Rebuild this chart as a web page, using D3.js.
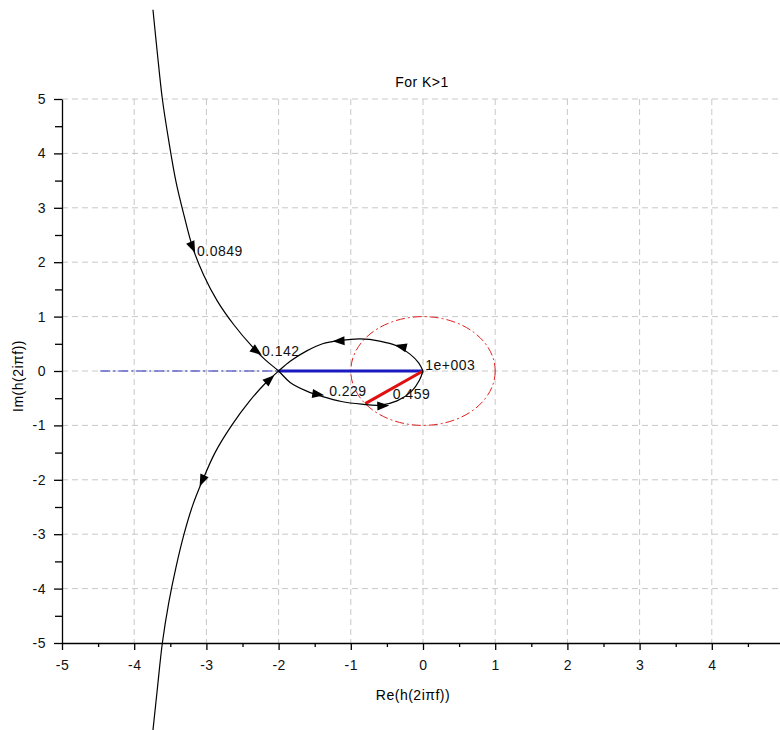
<!DOCTYPE html>
<html>
<head>
<meta charset="utf-8">
<script src="https://cdn.jsdelivr.net/npm/d3@7"></script>
<style>
  body { margin: 0; background: #fff; }
  svg { display: block; }
  text { font-family: "Liberation Sans", Arial, sans-serif; letter-spacing: 0.5px; }
</style>
</head>
<body>
<svg id="chart" width="780" height="730"></svg>
<script>
// ---- data ----
const xTicks = [-5, -4, -3, -2, -1, 0, 1, 2, 3, 4, 5];
const yTicks = [-5, -4, -3, -2, -1, 0, 1, 2, 3, 4, 5];
const minorTicks = [-4.5, -3.5, -2.5, -1.5, -0.5, 0.5, 1.5, 2.5, 3.5, 4.5];

// positive frequencies: upper branch down to -2, then lower arc to origin
const posRe = [-3.74, -3.68, -3.61, -3.52, -3.42, -3.31, -3.19, -3.04, -2.85, -2.62, -2.38, -2.18, -2.00,
               -1.84, -1.61, -1.39, -1.13, -0.85, -0.60, -0.36, -0.15, -0.05, 0.0];
const posIm = [6.64, 5.85, 5.00, 4.22, 3.47, 2.86, 2.27, 1.77, 1.29, 0.85, 0.47, 0.20, 0.0,
               -0.21, -0.37, -0.47, -0.56, -0.61, -0.63, -0.55, -0.36, -0.17, 0.0];
// negative frequencies: upper arc from origin to -2, then lower branch
const negRe = [0.0, -0.06, -0.18, -0.36, -0.60, -0.87, -1.15, -1.39, -1.61, -1.84, -2.00,
               -2.18, -2.40, -2.65, -2.88, -3.05, -3.19, -3.31, -3.42, -3.52, -3.61, -3.68, -3.74];
const negIm = [0.0, 0.15, 0.31, 0.46, 0.55, 0.59, 0.56, 0.50, 0.37, 0.18, 0.0,
               -0.22, -0.55, -1.00, -1.50, -2.00, -2.47, -3.00, -3.60, -4.25, -5.00, -5.85, -6.60];

// frequency arrows: point and heading (data units)
const arrowRe  = [-3.19, -2.30, -1.17, -0.31, -1.45, -0.55, -2.12, -3.06];
const arrowIm  = [ 2.27,  0.36,  0.55,  0.45, -0.43, -0.64, -0.15, -2.02];
const arrowDRe = [ 0.20,  0.25, -1.00, -0.60,  1.00,  1.00,  0.50, -0.20];
const arrowDIm = [-0.60, -0.25, -0.05,  0.20, -0.20,  0.05,  0.60, -0.60];

const freqLabels = ["0.0849", "0.142", "0.229", "0.459", "1e+003"];
const freqRe = [-3.13, -2.23, -1.30, -0.42, 0.03];
const freqIm = [ 2.12,  0.28, -0.46, -0.52, 0.02];

// gain margin (blue) and phase margin (red)
const gmDashRe = [-4.47, -2.0];
const gmRe = [-2.0, 0.0];
const pmRe = [0.0, -0.80];
const pmIm = [0.0, -0.60];

// ---- drawing ----
const svg = d3.select("#chart");
const x = d3.scaleLinear().domain([-5, 5]).range([62, 784]);
const y = d3.scaleLinear().domain([-5, 5]).range([643, 99]);

// grid
const grid = svg.append("g").attr("stroke", "#c8c8c8").attr("stroke-dasharray", "6,4").attr("stroke-width", 1);
grid.selectAll("line.gx").data(xTicks.slice(1)).enter().append("line")
    .attr("x1", d => x(d)).attr("x2", d => x(d)).attr("y1", y(5)).attr("y2", y(-5));
grid.selectAll("line.gy").data(yTicks.slice(1)).enter().append("line")
    .attr("x1", x(-5)).attr("x2", x(5)).attr("y1", d => y(d)).attr("y2", d => y(d));

// axes
const fmt = d => String(d);
svg.append("g").attr("transform", `translate(0,${y(-5)})`)
    .call(d3.axisBottom(x).tickValues(xTicks).tickSize(7).tickSizeOuter(0).tickPadding(10).tickFormat(fmt));
svg.append("g").attr("transform", `translate(0,${y(-5)})`)
    .call(d3.axisBottom(x).tickValues(minorTicks).tickSize(4).tickFormat(""))
    .call(g => g.select(".domain").remove());
svg.append("g").attr("transform", `translate(${x(-5)},0)`)
    .call(d3.axisLeft(y).tickValues(yTicks).tickSize(8).tickSizeOuter(0).tickPadding(8).tickFormat(fmt));
svg.append("g").attr("transform", `translate(${x(-5)},0)`)
    .call(d3.axisLeft(y).tickValues(minorTicks).tickSize(7).tickFormat(""))
    .call(g => g.select(".domain").remove());
svg.selectAll(".tick text").attr("font-size", 14).attr("fill", "#111")
    .attr("font-family", "'Liberation Sans', Arial, sans-serif");
svg.selectAll(".domain, .tick line").attr("stroke", "#000").attr("stroke-width", 1.3);

// titles
svg.append("text").attr("x", 422).attr("y", 87).attr("text-anchor", "middle")
    .attr("font-size", 14).text("For K>1");
svg.append("text").attr("x", 413).attr("y", 700).attr("text-anchor", "middle")
    .attr("font-size", 14).text("Re(h(2iπf))");
svg.append("text").attr("transform", "translate(23,376) rotate(-90)").attr("text-anchor", "middle")
    .attr("font-size", 14).text("Im(h(2iπf))");

// margins
svg.append("line").attr("x1", x(gmDashRe[0])).attr("x2", x(gmDashRe[1])).attr("y1", y(0)).attr("y2", y(0))
    .attr("stroke", "#2323b8").attr("stroke-width", 1.2).attr("stroke-dasharray", "10,3,2,3");
svg.append("ellipse").attr("cx", x(0)).attr("cy", y(0))
    .attr("rx", x(1) - x(0)).attr("ry", y(0) - y(1))
    .attr("fill", "none").attr("stroke", "#e02020").attr("stroke-width", 1)
    .attr("stroke-dasharray", "9,3,2,3");
svg.append("line").attr("x1", x(gmRe[0])).attr("x2", x(gmRe[1])).attr("y1", y(0)).attr("y2", y(0))
    .attr("stroke", "#1a1ac0").attr("stroke-width", 3);
svg.append("line").attr("x1", x(pmRe[0])).attr("x2", x(pmRe[1])).attr("y1", y(pmIm[0])).attr("y2", y(pmIm[1]))
    .attr("stroke", "#e01010").attr("stroke-width", 3);

// nyquist branches
const line = d3.line().x(d => x(d[0])).y(d => y(d[1])).curve(d3.curveCatmullRom.alpha(0.5));
[[posRe, posIm], [negRe, negIm]].forEach(([re, im]) => {
  svg.append("path").datum(re.map((r, i) => [r, im[i]]))
     .attr("d", line).attr("fill", "none").attr("stroke", "#000").attr("stroke-width", 1.2);
});

// arrows
arrowRe.forEach((r, i) => {
  const px = x(r), py = y(arrowIm[i]);
  let dx = x(r + arrowDRe[i]) - px, dy = y(arrowIm[i] + arrowDIm[i]) - py;
  const n = Math.hypot(dx, dy); dx /= n; dy /= n;
  const L = 6, W = 4.5;
  const tip = [px + dx * L, py + dy * L];
  const b1 = [px - dx * L - dy * W, py - dy * L + dx * W];
  const b2 = [px - dx * L + dy * W, py - dy * L - dx * W];
  svg.append("path").attr("d", `M${tip}L${b1}L${b2}Z`).attr("fill", "#000");
});

// frequency labels
svg.selectAll("text.freq").data(freqLabels).enter().append("text")
    .attr("x", (d, i) => x(freqRe[i])).attr("y", (d, i) => y(freqIm[i]))
    .attr("font-size", 14).attr("fill", "#111").text(d => d);
</script>
</body>
</html>
